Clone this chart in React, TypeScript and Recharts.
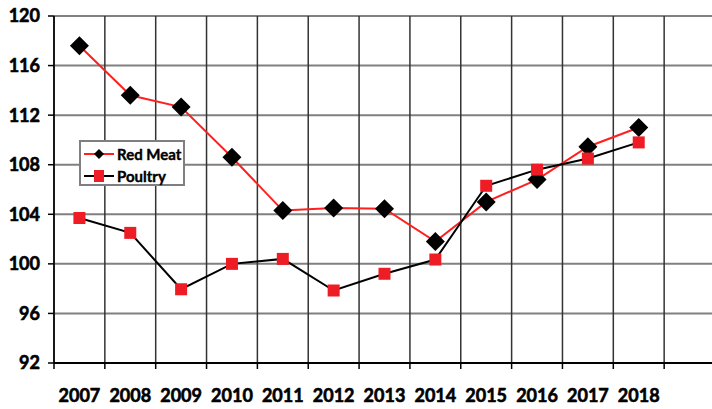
import React from 'react';
import { LineChart, Line, XAxis, YAxis, CartesianGrid, Legend } from 'recharts';

const years = ['2007', '2008', '2009', '2010', '2011', '2012', '2013', '2014', '2015', '2016', '2017', '2018'];
const redMeat = [117.6, 113.6, 112.65, 108.6, 104.3, 104.5, 104.45, 101.8, 105.0, 106.8, 109.45, 111.0];
const poultry = [103.7, 102.5, 97.95, 100.0, 100.4, 97.85, 99.2, 100.35, 106.3, 107.6, 108.5, 109.8];
const yTicks = [92, 96, 100, 104, 108, 112, 116, 120];
const bandCount = 13;
const boundaryTicks = Array.from({ length: bandCount + 1 }, (_, i) => i);
const labelTicks = years.map((_, i) => i + 0.5);

const data = years.map((year, i) => ({ x: i + 0.5, year, redMeat: redMeat[i], poultry: poultry[i] }));

const RED_LINE = '#ff1f1f';
const RED_SQ = '#ee1c25';
const FONT = 'Lato, "Open Sans", sans-serif';
const tickStyle = { fill: '#000', fontFamily: FONT, fontWeight: 700, fontSize: 18, stroke: '#000', strokeWidth: 0.6 };

const Diamond = (props: any) => {
  const { cx, cy } = props;
  if (cx == null || cy == null) return <g />;
  const r = 9.5;
  return <polygon points={`${cx},${cy - r} ${cx + r},${cy} ${cx},${cy + r} ${cx - r},${cy}`} fill="#000" />;
};

const Square = (props: any) => {
  const { cx, cy } = props;
  if (cx == null || cy == null) return <g />;
  const s = 12;
  return <rect x={cx - s / 2} y={cy - s / 2} width={s} height={s} fill={RED_SQ} />;
};

const LegendBox = () => (
  <div
    style={{
      border: '2px solid #7f7f7f',
      background: '#fff',
      width: 102,
      height: 42,
      boxSizing: 'content-box',
      fontFamily: FONT,
      fontWeight: 700,
      fontSize: 15,
      color: '#000',
      WebkitTextStroke: '0.4px #000',
    }}
  >
    <div style={{ display: 'flex', alignItems: 'center', height: 23 }}>
      <svg width={36} height={20} style={{ display: 'block' }}>
        <line x1={3} y1={10} x2={33} y2={10} stroke={RED_LINE} strokeWidth={2} />
        <polygon points="18,5 23,10 18,15 13,10" fill="#000" />
      </svg>
      <span>Red Meat</span>
    </div>
    <div style={{ display: 'flex', alignItems: 'center', height: 21 }}>
      <svg width={36} height={20} style={{ display: 'block' }}>
        <line x1={3} y1={10} x2={33} y2={10} stroke="#000" strokeWidth={2} />
        <rect x={13} y={4} width={10} height={12} fill={RED_SQ} />
      </svg>
      <span>Poultry</span>
    </div>
  </div>
);

export default function App() {
  return (
    <div style={{ position: 'absolute', left: 0, top: 0, width: 712, height: 409, overflow: 'hidden', background: '#fff' }}>
      <LineChart width={715} height={409} data={data} margin={{ top: 16, right: 0, bottom: 0, left: 0 }}>
        <CartesianGrid xAxisId="g" horizontal={true} vertical={false} stroke="#808080" strokeWidth={2} />
        <CartesianGrid xAxisId="g" horizontal={false} vertical={true} stroke="#333" strokeWidth={1.5} />
        <XAxis
          xAxisId="g"
          type="number"
          dataKey="x"
          domain={[0, bandCount]}
          ticks={boundaryTicks}
          height={6}
          tickSize={6}
          tick={() => <g />}
          tickLine={{ stroke: '#000', strokeWidth: 1.5 }}
          axisLine={{ stroke: '#000', strokeWidth: 2 }}
          allowDataOverflow
        />
        <XAxis
          xAxisId="l"
          type="number"
          dataKey="x"
          domain={[0, bandCount]}
          ticks={labelTicks}
          tickFormatter={(v: number) => years[Math.floor(v)]}
          height={40}
          tickSize={0}
          tickMargin={20}
          tickLine={false}
          axisLine={false}
          interval={0}
          tick={tickStyle}
          allowDataOverflow
        />
        <YAxis
          type="number"
          domain={[92, 120]}
          ticks={yTicks}
          width={54}
          tickSize={6}
          tickMargin={8}
          interval={0}
          tickLine={{ stroke: '#000', strokeWidth: 1.5 }}
          axisLine={{ stroke: '#000', strokeWidth: 1.5 }}
          tick={tickStyle}
          allowDataOverflow
        />
        <Legend
          layout="vertical"
          align="center"
          verticalAlign="middle"
          content={() => <LegendBox />}
          wrapperStyle={{ position: 'absolute', left: 79, top: 140, width: 'auto' }}
        />
        <Line
          xAxisId="l"
          dataKey="redMeat"
          name="Red Meat"
          stroke={RED_LINE}
          strokeWidth={2}
          dot={<Diamond />}
          activeDot={false}
          isAnimationActive={false}
        />
        <Line
          xAxisId="l"
          dataKey="poultry"
          name="Poultry"
          stroke="#000"
          strokeWidth={2}
          dot={<Square />}
          activeDot={false}
          isAnimationActive={false}
        />
      </LineChart>
    </div>
  );
}
